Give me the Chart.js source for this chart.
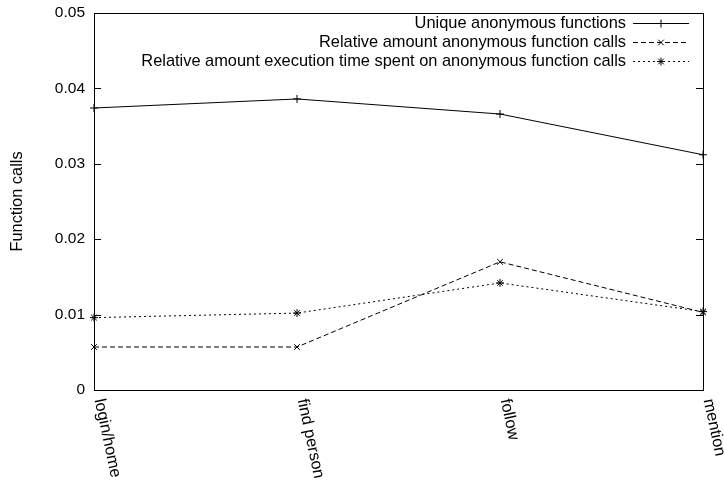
<!DOCTYPE html>
<html>
<head>
<meta charset="utf-8">
<script src="https://cdn.jsdelivr.net/npm/chart.js@4"></script>
<style>
  html, body { margin: 0; padding: 0; background: #fff; }
  #wrap { width: 724px; height: 484px; }
</style>
</head>
<body>
<div id="wrap"><canvas id="c" width="724" height="484"></canvas></div>
<script>
// Pages of the benchmark run
const categories = ['login/home', 'find person', 'follow', 'mention'];

// Measured ratios per page
const uniqueAnonFunctions = [0.0374, 0.0386, 0.0366, 0.0312];
const relAnonCalls        = [0.0057, 0.0057, 0.0170, 0.0103];
const relAnonExecTime     = [0.0096, 0.0102, 0.0142, 0.0104];

const seriesNames = [
  'Unique anonymous functions',
  'Relative amount anonymous function calls',
  'Relative amount execution time spent on anonymous function calls'
];

const yTickLabels = ['0', '0.01', '0.02', '0.03', '0.04', '0.05'];

const FONT = 'Liberation Sans, Arial, Helvetica, sans-serif';
const FS = 16.4;

// Box frame, inward y ticks, rotated category labels and a gnuplot-like key
const framePlugin = {
  id: 'frame',
  afterDraw(chart) {
    const ctx = chart.ctx;
    const a = chart.chartArea;
    const xs = chart.scales.x;
    const ys = chart.scales.y;
    ctx.save();
    ctx.strokeStyle = '#000';
    ctx.lineWidth = 1;
    ctx.setLineDash([]);
    // frame
    ctx.strokeRect(Math.round(a.left) + 0.5, Math.round(a.top) + 0.5,
                   Math.round(a.right - a.left), Math.round(a.bottom - a.top));
    // inward ticks on both sides
    ys.ticks.forEach(t => {
      const y = Math.round(ys.getPixelForValue(t.value)) + 0.5;
      ctx.beginPath();
      ctx.moveTo(a.left, y); ctx.lineTo(a.left + 7, y);
      ctx.moveTo(a.right, y); ctx.lineTo(a.right - 7, y);
      ctx.stroke();
    });
    // rotated category labels
    ctx.fillStyle = '#000';
    ctx.font = FS + 'px ' + FONT;
    ctx.textAlign = 'left';
    ctx.textBaseline = 'middle';
    categories.forEach((c, i) => {
      const x = xs.getPixelForValue(i);
      ctx.save();
      ctx.translate(x + 5, a.bottom + 9);
      ctx.rotate(78 * Math.PI / 180);
      ctx.fillText(c, 0, 0);
      ctx.restore();
    });
    // key
    const keyTextRight = a.right - 77;
    const sx0 = a.right - 70, sx1 = a.right - 14;
    chart.data.datasets.forEach((ds, i) => {
      const y = a.top + 10 + i * 19;
      ctx.fillStyle = '#000';
      ctx.textAlign = 'right';
      ctx.fillText(ds.label, keyTextRight, y);
      ctx.beginPath();
      ctx.setLineDash(ds.borderDash || []);
      ctx.moveTo(sx0, y + 0.5); ctx.lineTo(sx1, y + 0.5);
      ctx.stroke();
      ctx.setLineDash([]);
      Chart.helpers.drawPoint(ctx, {
        pointStyle: ds.pointStyle, radius: ds.pointRadius, borderWidth: 1, rotation: 0
      }, (sx0 + sx1) / 2, y + 0.5);
    });
    ctx.restore();
  }
};

new Chart(document.getElementById('c'), {
  type: 'line',
  data: {
    labels: categories,
    datasets: [
      {
        label: seriesNames[0], data: uniqueAnonFunctions,
        borderColor: '#000', backgroundColor: '#000', borderWidth: 1,
        pointStyle: 'cross', pointRadius: 4, pointBorderWidth: 1,
        pointBorderColor: '#000', tension: 0, fill: false, clip: false
      },
      {
        label: seriesNames[1], data: relAnonCalls,
        borderColor: '#000', backgroundColor: '#000', borderWidth: 1, borderDash: [5, 3],
        pointStyle: 'crossRot', pointRadius: 4, pointBorderWidth: 1,
        pointBorderColor: '#000', tension: 0, fill: false, clip: false
      },
      {
        label: seriesNames[2], data: relAnonExecTime,
        borderColor: '#000', backgroundColor: '#000', borderWidth: 1, borderDash: [2, 3],
        pointStyle: 'star', pointRadius: 4, pointBorderWidth: 1,
        pointBorderColor: '#000', tension: 0, fill: false, clip: false
      }
    ]
  },
  options: {
    responsive: false,
    animation: false,
    devicePixelRatio: 1,
    layout: { padding: { left: 0, top: 13, right: 21, bottom: 94 } },
    plugins: { legend: { display: false }, tooltip: { enabled: false } },
    scales: {
      x: {
        type: 'category',
        offset: false,
        grid: { display: false, drawTicks: false },
        border: { display: false },
        ticks: { display: false },
        afterFit(s) { s.height = 0; s.paddingLeft = 0; s.paddingRight = 0; }
      },
      y: {
        min: 0, max: 0.05,
        grid: { display: false, drawTicks: false },
        border: { display: false },
        ticks: {
          stepSize: 0.01,
          padding: 9,
          color: '#000',
          font: { family: FONT, size: 15.5 },
          callback: (v, i) => yTickLabels[i]
        },
        title: {
          display: true, text: 'Function calls', color: '#000',
          font: { family: FONT, size: FS },
          padding: { top: 8, bottom: 0 }
        },
        afterFit(s) { s.width = 94; s.paddingTop = 0; s.paddingBottom = 0; }
      }
    }
  },
  plugins: [framePlugin]
});
</script>
</body>
</html>
